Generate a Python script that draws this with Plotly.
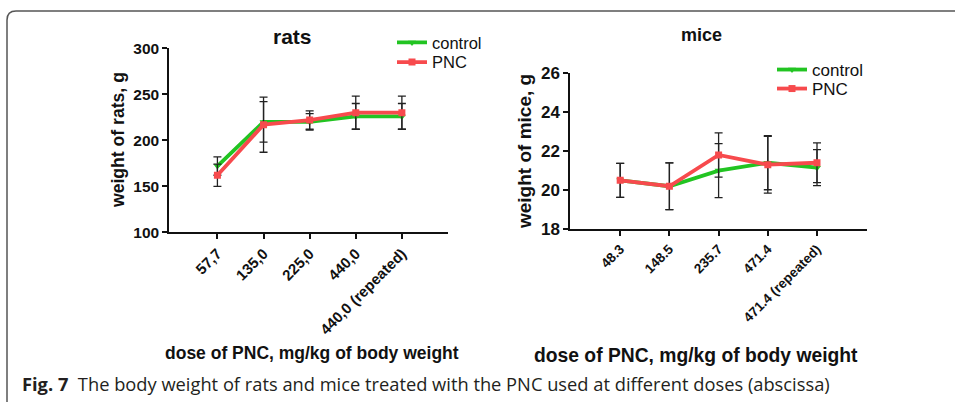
import plotly.graph_objects as go

# ---- data ----
rat_doses = ["57,7", "135,0", "225,0", "440,0", "440,0 (repeated)"]
rat_control = [172, 220, 220, 226, 226]
rat_control_err = [10, 22, 9, 14, 14]
rat_pnc = [162, 217, 222, 230, 230]
rat_pnc_err = [12, 30, 10, 18, 18]

mice_doses = ["48.3", "148.5", "235.7", "471.4", "471.4 (repeated)"]
mice_control = [20.5, 20.2, 21.0, 21.4, 21.15]
mice_control_err = [0.87, 1.19, 1.38, 1.38, 0.92]
mice_pnc = [20.5, 20.2, 21.8, 21.3, 21.4]
mice_pnc_err = [0.87, 1.19, 1.13, 1.45, 1.02]

GREEN = "#22c422"
RED = "#f74a4d"
W, H = 955, 402
FONT = "Arial"

def px(x):
    return x / W

def py(y):
    return 1 - y / H

pos = list(range(5))

fig = go.Figure()

def add_series(xaxis, yaxis, y, err, color, symbol, name, legend):
    fig.add_trace(go.Scatter(
        x=pos, y=y, name=name, mode="lines+markers", showlegend=True,
        xaxis=xaxis, yaxis=yaxis, legend=legend,
        line=dict(color=color, width=3.8),
        marker=dict(symbol=symbol, size=7, color=color),
        error_y=dict(type="data", array=err, visible=True,
                     color="#222222", thickness=1.3, width=4),
    ))

add_series("x", "y", rat_control, rat_control_err, GREEN, "triangle-down", "control", "legend")
add_series("x", "y", rat_pnc, rat_pnc_err, RED, "square", "PNC", "legend2")
add_series("x2", "y2", mice_control, mice_control_err, GREEN, "triangle-down", "control", "legend3")
add_series("x2", "y2", mice_pnc, mice_pnc_err, RED, "square", "PNC", "legend4")

axis_common = dict(showline=True, linecolor="#111111", linewidth=1.5,
                   ticks="outside", ticklen=5, tickwidth=1.5, tickcolor="#111111",
                   showgrid=False, zeroline=False, automargin=False)

def leg(x, y, size):
    return dict(x=px(x), y=py(y), xanchor="left", yanchor="middle",
                bgcolor="rgba(0,0,0,0)", font=dict(size=size, family=FONT, color="#111111"),
                itemwidth=30, borderwidth=0)

fig.update_layout(
    width=W, height=H, margin=dict(l=0, r=0, t=0, b=0, autoexpand=False),
    paper_bgcolor="white", plot_bgcolor="white", showlegend=True,
    font=dict(family=FONT, color="#111111"),
    xaxis=dict(domain=[px(169), px(448)], range=[-1.05, 5.0], anchor="y",
               tickvals=pos, ticktext=rat_doses, tickangle=-45,
               tickfont=dict(size=15, family=FONT, weight="bold"), **axis_common),
    yaxis=dict(domain=[py(232.3), py(48.3)], range=[100, 300], anchor="x",
               tickvals=[100, 150, 200, 250, 300],
               tickfont=dict(size=15.5, family=FONT, weight="bold"), **axis_common),
    xaxis2=dict(domain=[px(570), px(866.7)], range=[-1.02, 5.01], anchor="y2",
                tickvals=pos, ticktext=mice_doses, tickangle=-45,
                tickfont=dict(size=13.5, family=FONT, weight="bold"), **axis_common),
    yaxis2=dict(domain=[py(229.3), py(72.7)], range=[18, 26], anchor="x2",
                tickvals=[18, 20, 22, 24, 26],
                tickfont=dict(size=17, family=FONT, weight="bold"), **axis_common),
    legend=leg(392, 42.7, 16.5),
    legend2=leg(392, 62.3, 16.5),
    legend3=leg(772, 70, 17),
    legend4=leg(772, 89, 17),
)

annotations = [
    dict(text="<b>rats</b>", x=px(292.5), y=py(36), font=dict(size=21, family=FONT)),
    dict(text="<b>mice</b>", x=px(701), y=py(35), font=dict(size=18, family=FONT)),
    dict(text="<b>weight of rats, g</b>", x=px(118), y=py(140), textangle=-90, font=dict(size=17.6, family=FONT)),
    dict(text="<b>weight of mice, g</b>", x=px(524), y=py(152), textangle=-90, font=dict(size=19, family=FONT)),
    dict(text="<b>dose of PNC, mg/kg of body weight</b>", x=px(312), y=py(353), font=dict(size=17.5, family=FONT)),
    dict(text="<b>dose of PNC, mg/kg of body weight</b>", x=px(696), y=py(355), font=dict(size=19.3, family=FONT)),
    dict(text="<b>Fig. 7</b>  The body weight of rats and mice treated with the PNC used at different doses (abscissa)",
         x=px(20), y=py(383), xanchor="left",
         font=dict(size=18.3, family="Open Sans", color="#231f20")),
]
for a in annotations:
    a.setdefault("xanchor", "center")
    fig.add_annotation(xref="paper", yref="paper", showarrow=False, yanchor="middle", **a)

# rounded frame (top/left)
x0, yb, yt, r = px(7), py(402), py(11), 9
path = (f"M {x0} {yb} L {x0} {py(11 + r)} Q {x0} {yt} {px(7 + r)} {yt} L 1 {yt}")
fig.add_shape(type="path", xref="paper", yref="paper", path=path,
              line=dict(color="#555555", width=1.5))

fig.write_html("out.html", config={"displayModeBar": False},
               post_script="document.body.style.margin='0';document.body.style.overflow='hidden';")
